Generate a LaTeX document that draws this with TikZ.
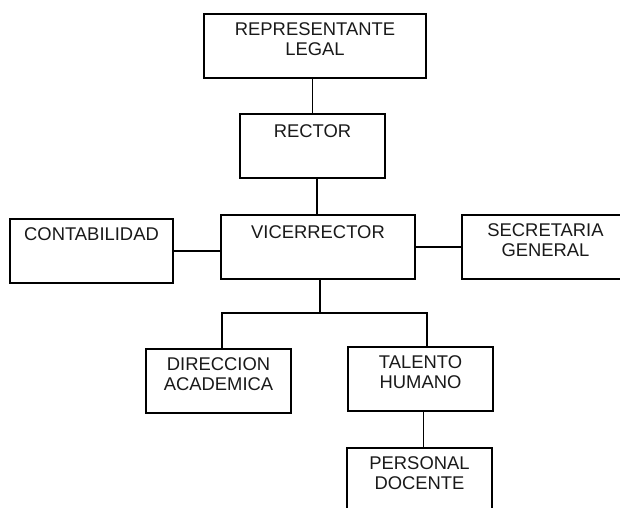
\documentclass[tikz,border=0pt]{standalone}
\usepackage{fontspec}
\setmainfont{Liberation Sans}
\usepackage{tikz}
\usetikzlibrary{calc, positioning}
\tikzstyle{unit} = [rectangle, draw=black, line width=1.3pt, inner xsep=0pt, inner ysep=8pt, text height=13pt, text depth=35pt, align=center, text=black!90, font=\fontsize{18.4pt}{20.5pt}\selectfont]
\tikzstyle{link} = [line width=1.3pt, draw=black]

\begin{document}
\begin{tikzpicture}[x=1pt, y=-1pt]
			\useasboundingbox (0,0) rectangle (620,507);
			\clip (0,0) rectangle (620,507);
			\node (rep) [unit, text width=222pt] at (315,46) {REPRESENTANTE\\LEGAL};
			\node (rector) [unit, text width=145pt, inner ysep=10pt, text depth=31pt] at (312.5,146) {RECTOR};
			\node (vice) [unit, text width=194pt, inner ysep=10pt, text depth=31pt] at (318,247) {VICERRECTOR};
			\node (contab) [unit, text width=163pt] at (91.5,251) {CONTABILIDAD};
			\node (sec) [unit, text width=167pt] at (545.5,247) {SECRETARIA\\GENERAL};
			\node (dir) [unit, text width=145pt] at (218.5,381) {DIRECCION\\ACADEMICA};
			\node (talento) [unit, text width=145pt] at (420.5,379) {TALENTO\\HUMANO};
			\node (personal) [unit, text width=145pt] at (419.5,480) {PERSONAL\\DOCENTE};
			\coordinate (split) at (320,313);

			%lines
			\draw [link] (rector.north) -- (rector.north |- rep.south);
			\draw [link] ([xshift=-1pt]vice.north) -- ([xshift=-1pt]vice.north |- rector.south);
			\draw [link] (contab.east) -- (contab.east -| vice.west);
			\draw [link] (vice.east) -- (sec.west);
			\draw [link] ([xshift=2pt]vice.south) -- (split);
			\draw [link] ([xshift=3.5pt]dir.north) |- (split) -| ([xshift=6.5pt]talento.north);
			\draw [link] ([xshift=4pt]personal.north) -- ([xshift=4pt]personal.north |- talento.south);

		\end{tikzpicture}
\end{document}
